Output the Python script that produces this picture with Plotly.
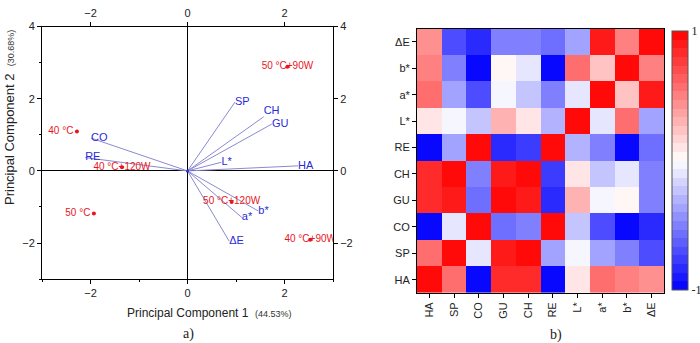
import plotly.graph_objects as go

# ---------------- data: PCA biplot ----------------
sample_labels = ["50 °C+90W", "40 °C", "40 °C+120W", "50 °C", "50 °C+120W", "40 °C+90W"]
sample_pc1 = [2.06, -2.28, -1.35, -1.93, 0.91, 2.53]
sample_pc2 = [2.89, 1.09, 0.10, -1.18, -0.86, -1.91]
sample_textpos = ["middle center", "middle left", "middle center", "middle left", "middle center", "middle center"]

var_labels = ["SP", "CH", "GU", "CO", "RE", "L*", "HA", "b*", "a*", "ΔE"]
var_pc1 = [0.98, 1.57, 1.74, -1.99, -2.11, 0.70, 2.28, 1.46, 1.12, 0.86]
var_pc2 = [1.91, 1.50, 1.30, 0.91, 0.37, 0.24, 0.14, -1.11, -1.29, -1.95]
var_textpos = ["middle right", "top right", "middle right", "middle right", "middle right",
               "middle right", "middle right", "middle right", "middle right", "middle right"]

pc_ticks = [-2, 0, 2]
pc2_ticks = [-2, 0, 2, 4]

# ---------------- data: correlation heatmap ----------------
heat_vars = ["HA", "SP", "CO", "GU", "CH", "RE", "L*", "a*", "b*", "ΔE"]
corr = [
    [1.00, 0.55, -1.00, 0.85, 0.85, -0.98, 0.12, 0.60, 0.50, 0.40],
    [0.55, 1.00, -0.12, 0.88, 0.97, -0.40, -0.03, -0.35, -0.50, -0.72],
    [-1.00, -0.12, 1.00, -0.60, -0.48, 0.98, -0.20, -0.72, -0.98, -0.86],
    [0.85, 0.88, -0.60, 1.00, 0.92, -0.85, 0.30, -0.05, 0.03, -0.50],
    [0.85, 0.97, -0.48, 0.92, 1.00, -0.75, 0.12, -0.20, -0.10, -0.50],
    [-0.98, -0.40, 0.98, -0.85, -0.75, 1.00, -0.30, -0.50, -0.97, -0.60],
    [0.12, -0.03, -0.20, 0.30, 0.12, -0.30, 1.00, -0.10, 0.60, -0.35],
    [0.60, -0.35, -0.72, -0.05, -0.20, -0.50, -0.10, 1.00, 0.20, 0.88],
    [0.50, -0.50, -0.98, 0.03, -0.10, -0.97, 0.60, 0.20, 1.00, 0.47],
    [0.40, -0.72, -0.86, -0.50, -0.50, -0.60, -0.35, 0.88, 0.47, 1.00],
]

W, H = 700, 343
RED = "#e8161c"
BLUE_TXT = "#2a2ad8"
BLUE_LINE = "#8a8ad0"
SANS = "Liberation Sans, Arial, sans-serif"
SERIF = "Liberation Serif, Times New Roman, serif"


def px_x(p):
    return p / W


def px_y(p):
    return 1 - p / H


# discrete blue-white-red colorscale
N = 30
def col_at(v):
    if v < 0:
        t = v + 1
        r = g = int(round(255 * t))
        return f"rgb({r},{g},255)"
    t = 1 - v
    g = b = int(round(255 * t))
    return f"rgb(255,{g},{b})"

cscale = []
for i in range(N):
    v = -1 + (i + 0.5) * 2 / N
    c = col_at(v)
    cscale.append([i / N, c])
    cscale.append([(i + 1) / N, c])

fig = go.Figure()

# vectors
lx, ly = [], []
for x, y in zip(var_pc1, var_pc2):
    lx += [0, x, None]
    ly += [0, y, None]
fig.add_trace(go.Scatter(x=lx, y=ly, mode="lines", line=dict(color=BLUE_LINE, width=1),
                         xaxis="x", yaxis="y", showlegend=False, hoverinfo="skip"))
fig.add_trace(go.Scatter(x=var_pc1, y=var_pc2, mode="text", text=var_labels,
                         textposition=var_textpos,
                         textfont=dict(color=BLUE_TXT, size=11, family=SANS),
                         xaxis="x", yaxis="y", showlegend=False))
fig.add_trace(go.Scatter(x=[0], y=[0], mode="markers", marker=dict(color=BLUE_TXT, size=3),
                         xaxis="x", yaxis="y", showlegend=False))
# samples
fig.add_trace(go.Scatter(x=sample_pc1, y=sample_pc2, mode="markers+text", text=sample_labels,
                         textposition=sample_textpos,
                         marker=dict(color=RED, size=4),
                         textfont=dict(color=RED, size=10, family=SANS),
                         xaxis="x", yaxis="y", showlegend=False))
# dummy for mirrored axes
fig.add_trace(go.Scatter(x=[], y=[], xaxis="x3", yaxis="y3", showlegend=False))

# heatmap
fig.add_trace(go.Heatmap(z=corr, x=heat_vars, y=heat_vars, zmin=-1, zmax=1,
                         colorscale=cscale, xaxis="x2", yaxis="y2",
                         colorbar=dict(x=px_x(672), xanchor="left", xpad=0,
                                       y=px_y(157), yanchor="middle", ypad=0,
                                       len=264 / H, lenmode="fraction", thickness=16,
                                       outlinecolor="#555", outlinewidth=1,
                                       tickvals=[-1, 1], ticktext=["-1", "1"], ticks="",
                                       tickfont=dict(family=SERIF, size=12, color="#222"))))

ax_common = dict(showline=True, linecolor="black", linewidth=1, ticks="outside", ticklen=4,
                 tickcolor="black", showgrid=False, tickfont=dict(family=SANS, size=11, color="#222"))

lx0, lx1 = px_x(42), px_x(333)
ly0, ly1 = px_y(278), px_y(21)
hx0, hx1 = px_x(417), px_x(664)
hy0, hy1 = px_y(292), px_y(23)

fig.update_layout(
    width=W, height=H, margin=dict(l=0, r=0, t=0, b=0),
    paper_bgcolor="white", plot_bgcolor="white",
    xaxis=dict(domain=[lx0, lx1], anchor="y", range=[-3, 3], tickvals=pc_ticks,
               zeroline=True, zerolinecolor="black", zerolinewidth=1,
               minor=dict(ticks="outside", dtick=1, tick0=0, ticklen=2, tickcolor="black"),
               **ax_common),
    yaxis=dict(domain=[ly0, ly1], anchor="x", range=[-3, 4], tickvals=pc2_ticks,
               zeroline=True, zerolinecolor="black", zerolinewidth=1,
               minor=dict(ticks="outside", dtick=1, tick0=0, ticklen=2, tickcolor="black"),
               **ax_common),
    xaxis3=dict(overlaying="x", side="top", anchor="y", range=[-3, 3], tickvals=pc_ticks,
                zeroline=False, **ax_common),
    yaxis3=dict(overlaying="y", side="right", anchor="x", range=[-3, 4], tickvals=pc2_ticks,
                zeroline=False, **ax_common),
    xaxis2=dict(domain=[hx0, hx1], anchor="y2", tickangle=-90, mirror=True, **ax_common),
    yaxis2=dict(domain=[hy0, hy1], anchor="x2", mirror=True, **ax_common),
)

ann = dict(xref="paper", yref="paper", showarrow=False, xanchor="center", yanchor="middle")
annotations = [
    dict(x=px_x(209), y=px_y(312),
         text="Principal Component 1  <span style='font-size:9px;color:#333'>(44.53%)</span>",
         font=dict(family=SANS, size=12, color="#222"), **ann),
    dict(x=px_x(9), y=px_y(114), textangle=-90,
         text="Principal Component 2  <span style='font-size:9px;color:#333'>(30.68%)</span>",
         font=dict(family=SANS, size=13, color="#222"), **ann),
    dict(x=px_x(188), y=px_y(334),
         text="a)", font=dict(family=SERIF, size=14, color="#222"), **ann),
    dict(x=px_x(556), y=px_y(335),
         text="b)", font=dict(family=SERIF, size=14, color="#222"), **ann),
]
fig.update_layout(annotations=annotations)

fig.write_html("out.html")
